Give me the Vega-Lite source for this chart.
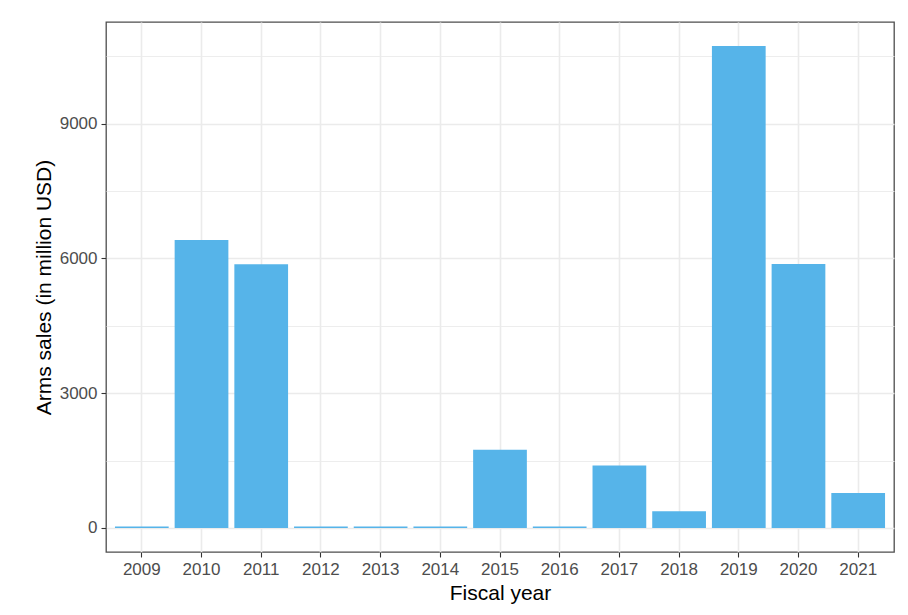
{
  "$schema": "https://vega.github.io/schema/vega-lite/v6.json",
  "autosize": {"type": "none"},
  "width": 788,
  "height": 530,
  "padding": {"left": 106, "top": 22, "right": 14, "bottom": 63},
  "background": "white",
  "data": {
    "values": [
      {"year": "2009", "sales": 30},
      {"year": "2010", "sales": 6410},
      {"year": "2011", "sales": 5870},
      {"year": "2012", "sales": 30},
      {"year": "2013", "sales": 30},
      {"year": "2014", "sales": 30},
      {"year": "2015", "sales": 1740},
      {"year": "2016", "sales": 30},
      {"year": "2017", "sales": 1390},
      {"year": "2018", "sales": 370},
      {"year": "2019", "sales": 10725},
      {"year": "2020", "sales": 5875},
      {"year": "2021", "sales": 776}
    ]
  },
  "mark": {"type": "bar", "color": "#56B4E9"},
  "encoding": {
    "x": {
      "field": "year",
      "type": "ordinal",
      "title": "Fiscal year",
      "scale": {"paddingInner": 0.1, "paddingOuter": 0.15},
      "axis": {
        "labelAngle": 0,
        "grid": true,
        "bandPosition": 0.5,
        "gridColor": "#ebebeb",
        "gridWidth": 1.6,
        "domain": false,
        "tickColor": "#333333",
        "tickSize": 5,
        "tickWidth": 1.1,
        "labelPadding": 4,
        "labelFont": "Liberation Sans",
        "labelFontSize": 17,
        "labelColor": "#4d4d4d",
        "titleFont": "Liberation Sans",
        "titleFontSize": 21,
        "titleFontWeight": "normal",
        "titleColor": "#000000",
        "titlePadding": 5
      }
    },
    "y": {
      "field": "sales",
      "type": "quantitative",
      "title": "Arms sales (in million USD)",
      "scale": {"domain": [-536, 11261], "nice": false, "zero": false},
      "axis": {
        "values": [0, 1500, 3000, 4500, 6000, 7500, 9000, 10500],
        "format": "d",
        "labelExpr": "datum.value % 3000 === 0 ? datum.label : ''",
        "grid": true,
        "gridColor": "#ebebeb",
        "gridWidth": {"condition": {"test": "datum.value % 3000 === 0", "value": 1.6}, "value": 0.9},
        "tickOpacity": {"condition": {"test": "datum.value % 3000 === 0", "value": 1}, "value": 0},
        "domain": false,
        "tickColor": "#333333",
        "tickSize": 5,
        "tickWidth": 1.1,
        "labelPadding": 4,
        "labelFont": "Liberation Sans",
        "labelFontSize": 17,
        "labelColor": "#4d4d4d",
        "titleFont": "Liberation Sans",
        "titleFontSize": 21,
        "titleFontWeight": "normal",
        "titleColor": "#000000",
        "titlePadding": 5
      }
    },
    "y2": {"datum": 0}
  },
  "config": {
    "view": {"stroke": "#4d4d4d", "strokeWidth": 1.3}
  }
}
